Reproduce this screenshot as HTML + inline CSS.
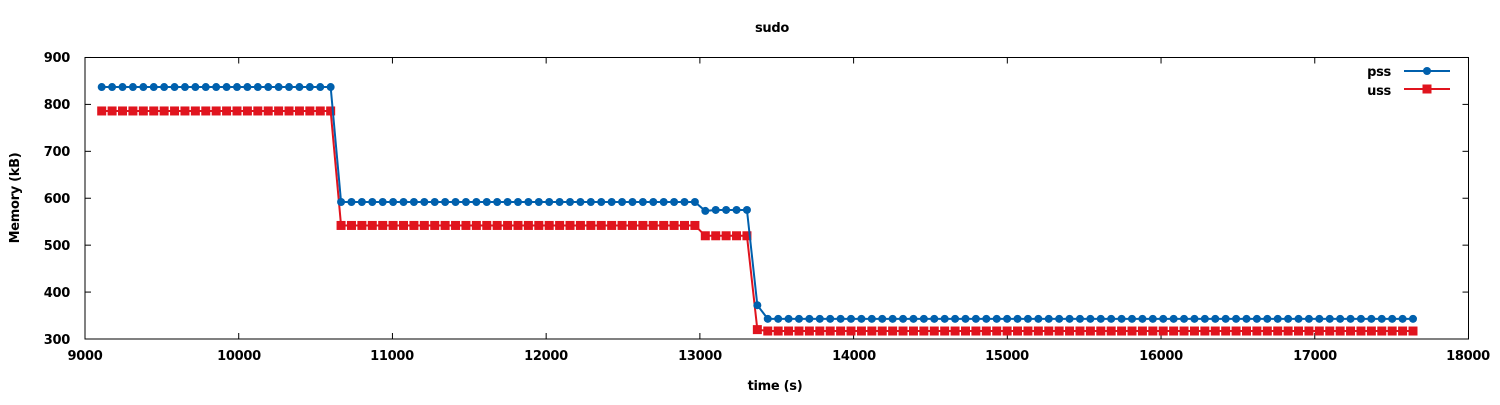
<!DOCTYPE html>
<html><head><meta charset="utf-8"><style>
html,body{margin:0;padding:0;background:#fff}
text{font-family:"DejaVu Sans","Liberation Sans",sans-serif;font-size:13px;fill:#000;font-weight:bold;letter-spacing:-0.3px}
</style></head><body>
<svg id="s" width="1500" height="400" xmlns="http://www.w3.org/2000/svg">
<rect x="0" y="0" width="1500" height="400" fill="#fff"/>
<text x="772" y="32" text-anchor="middle">sudo</text>
<text x="775" y="390" text-anchor="middle">time (s)</text>
<text transform="translate(19,198) rotate(-90)" text-anchor="middle">Memory (kB)</text>
<g id="ticks" stroke="#000" stroke-width="1"></g>
<g text-anchor="end">
<text x="70" y="62">900</text><text x="70" y="109">800</text><text x="70" y="156">700</text>
<text x="70" y="203">600</text><text x="70" y="250">500</text><text x="70" y="297">400</text>
<text x="70" y="344">300</text>
</g>
<g text-anchor="middle">
<text x="85" y="360">9000</text><text x="239" y="360">10000</text><text x="392" y="360">11000</text>
<text x="546" y="360">12000</text><text x="700" y="360">13000</text><text x="854" y="360">14000</text>
<text x="1007" y="360">15000</text><text x="1161" y="360">16000</text><text x="1315" y="360">17000</text>
<text x="1468" y="360">18000</text>
</g>
<rect x="85" y="57.5" width="1383.5" height="281.5" fill="none" stroke="#000" stroke-width="1"/>
<g id="series"></g>
<text x="1391" y="76" text-anchor="end">pss</text>
<text x="1391" y="95" text-anchor="end">uss</text>
</svg>
<script>
var NS="http://www.w3.org/2000/svg";
function el(n,a,p){var e=document.createElementNS(NS,n);for(var k in a)e.setAttribute(k,a[k]);p.appendChild(e);return e;}
var tk=document.getElementById('ticks');
function Y(v){return 339-(v-300)*0.4692;}
for(var v=300;v<=900;v+=100){var y=Y(v);el('line',{x1:85,y1:y,x2:91,y2:y},tk);el('line',{x1:1468.5,y1:y,x2:1462.5,y2:y},tk);}
for(var t=9000;t<=18000;t+=1000){var x=85+(t-9000)*0.15372;el('line',{x1:x,y1:339,x2:x,y2:333},tk);el('line',{x1:x,y1:57.5,x2:x,y2:63.5},tk);}
var sg=document.getElementById('series');
var step=(1413-101.7)/126;
var P=[],U=[];
for(var i=0;i<=126;i++){var x=101.7+i*step,p,u;
 if(i<=22){p=837;u=786;}else if(i<=57){p=592;u=542;}else if(i<=62){p=(i==58?573:575);u=520;}else if(i==63){p=372;u=320;}else{p=343;u=317;}
 P.push([x,Y(p)]);U.push([x,Y(u)]);}
function draw(pts,c,sq){
 el('polyline',{points:pts.map(function(q){return q.join(',')}).join(' '),fill:'none',stroke:c,'stroke-width':2},sg);
 pts.forEach(function(q){ if(sq) el('rect',{x:q[0]-4.5,y:q[1]-4.5,width:9,height:9,fill:c},sg); else el('circle',{cx:q[0],cy:q[1],r:4,fill:c},sg);});
}
draw(U,'#e0141e',true);
draw(P,'#0060ad',false);
var s=document.getElementById('s');
el('line',{x1:1404,y1:71,x2:1450,y2:71,stroke:'#0060ad','stroke-width':2},s);
el('circle',{cx:1427,cy:71,r:4,fill:'#0060ad'},s);
el('line',{x1:1404,y1:89,x2:1450,y2:89,stroke:'#e0141e','stroke-width':2},s);
el('rect',{x:1422.5,y:84.5,width:9,height:9,fill:'#e0141e'},s);
</script>
</body></html>
